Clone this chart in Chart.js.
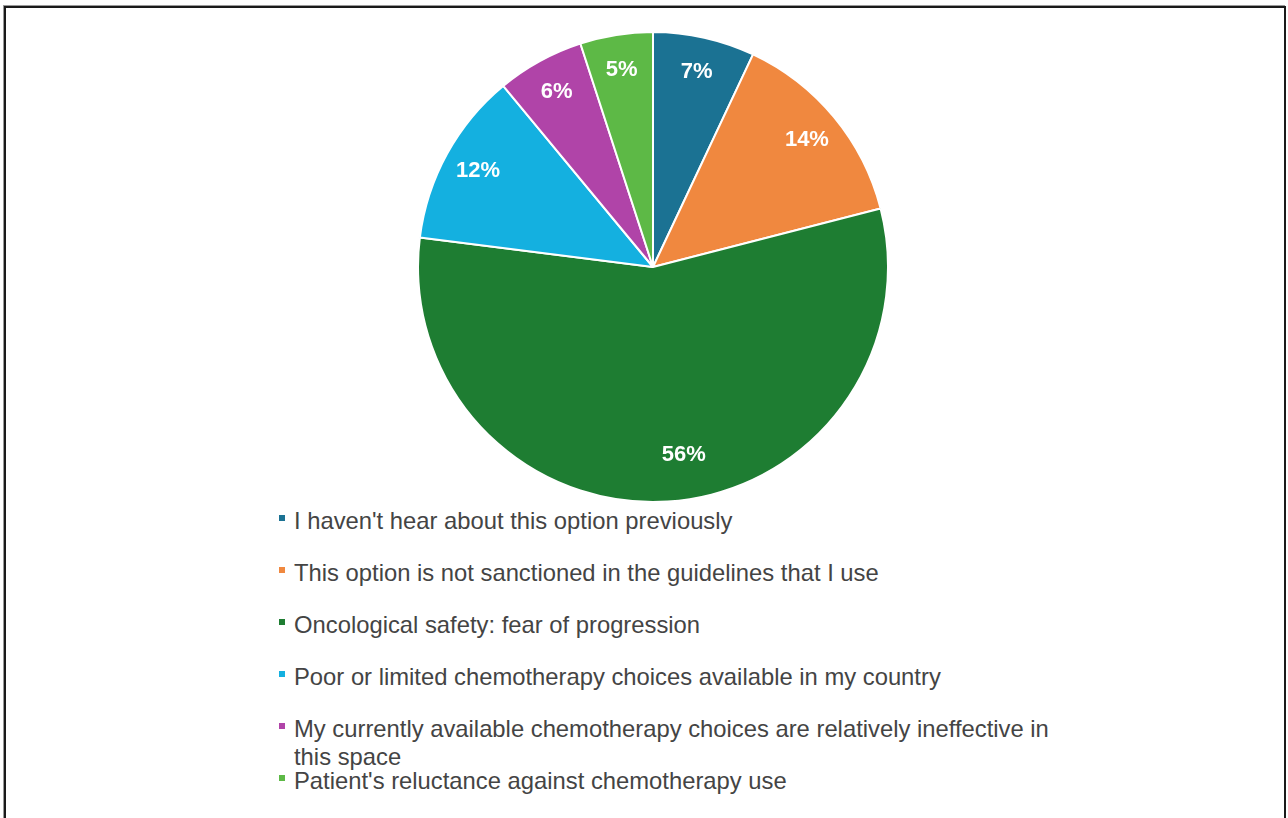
<!DOCTYPE html>
<html>
<head>
<meta charset="utf-8">
<script src="https://cdn.jsdelivr.net/npm/chart.js@4"></script>
<style>
  html, body { margin: 0; padding: 0; background: #fff; }
  body { width: 1288px; height: 818px; position: relative; overflow: hidden; font-family: "Liberation Sans", Arial, sans-serif; }
  #frame { position: absolute; left: 4px; top: 6px; width: 1278px; height: 830px; border: 2px solid #1a1a1a; box-shadow: -1px -1px 0 #999; }
  #pieBox { position: absolute; left: 417px; top: 31px; width: 472px; height: 472px; }
  #legend { position: absolute; left: 279px; top: 507px; width: 790px; margin: 0; padding: 0; list-style: none; color: #444; font-size: 23.8px; line-height: 28px; }
  #legend li { position: relative; padding-left: 15px; margin-bottom: 24px; }
  #legend li.tight { margin-bottom: -4px; }
  #legend li span { position: absolute; left: 0; top: 8px; width: 6px; height: 6px; }
</style>
</head>
<body>
<div id="frame"></div>
<div id="pieBox"><canvas id="myChart"></canvas></div>
<ul id="legend"></ul>
<script>
// reasons for not using the option
const labels = [
    "I haven't hear about this option previously",
    'This option is not sanctioned in the guidelines that I use',
    'Oncological safety: fear of progression',
    'Poor or limited chemotherapy choices available in my country',
    'My currently available chemotherapy choices are relatively ineffective in this space',
    "Patient's reluctance against chemotherapy use"
];
const values = [7, 14, 56, 12, 6, 5];
const colors = ['#1b7293', '#f0883f', '#1e7d32', '#14b0e0', '#b044a8', '#5db946'];

// percent labels inside the slices, near the outer edge
const sliceLabels = {
    id: 'sliceLabels',
    afterDatasetsDraw(chart) {
        const ctx = chart.ctx;
        const meta = chart.getDatasetMeta(0);
        ctx.save();
        ctx.fillStyle = '#fff';
        ctx.font = 'bold 22px "Liberation Sans", Arial, sans-serif';
        ctx.textAlign = 'center';
        ctx.textBaseline = 'middle';
        meta.data.forEach((arc, i) => {
            const p = arc.getProps(['x', 'y', 'startAngle', 'endAngle', 'outerRadius'], true);
            let mid = (p.startAngle + p.endAngle) / 2;
            if (values[i] > 40) mid -= 0.1;
            const r = p.outerRadius * (values[i] > 40 ? 0.81 : 0.85);
            ctx.fillText(values[i] + '%', p.x + Math.cos(mid) * r, p.y + Math.sin(mid) * r);
        });
        ctx.restore();
    }
};

const ctx = document.getElementById('myChart').getContext('2d');
const myChart = new Chart(ctx, {
    type: 'pie',
    data: {
        labels: labels,
        datasets: [{
            data: values,
            backgroundColor: colors,
            borderColor: '#fff',
            borderWidth: 2
        }]
    },
    options: {
        responsive: true,
        maintainAspectRatio: false,
        animation: false,
        plugins: {
            legend: { display: false },
            tooltip: { enabled: false }
        }
    },
    plugins: [sliceLabels]
});

// legend list under the pie
const legend = document.getElementById('legend');
labels.forEach((txt, i) => {
    const li = document.createElement('li');
    if (i === 4) li.className = 'tight';
    const sw = document.createElement('span');
    sw.style.background = colors[i];
    li.appendChild(sw);
    li.appendChild(document.createTextNode(txt));
    legend.appendChild(li);
});
</script>
</body>
</html>
